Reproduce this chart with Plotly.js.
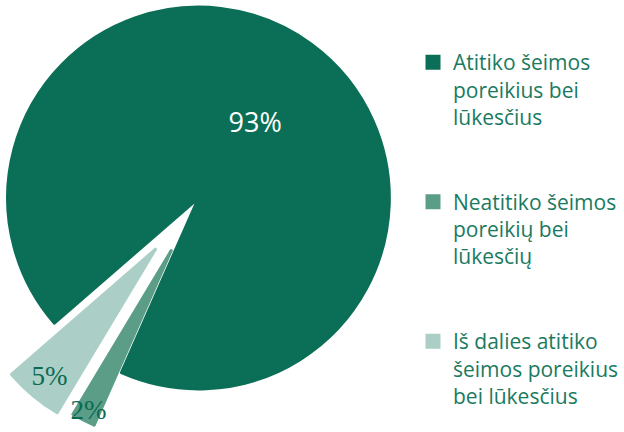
<!DOCTYPE html>
<html>
<head>
<meta charset="utf-8">
<script src="https://cdn.plot.ly/plotly-3.0.1.min.js"></script>
<style>
html, body { margin: 0; padding: 0; overflow: hidden; background: #ffffff; width: 624px; height: 432px; }
#chart { position: absolute; left: -64px; top: -66px; }
</style>
</head>
<body>
<div id="chart"></div>
<script>
// Data
var categories = [
  "Atitiko šeimos<br>poreikius bei<br>lūkesčius",
  "Neatitiko šeimos<br>poreikių bei<br>lūkesčių",
  "Iš dalies atitiko<br>šeimos poreikius<br>bei lūkesčius"
];
var shares = [93, 2, 5];
var sliceColors = ["#0b6f57", "#5b9d87", "#abcfc6"];
var slicePull = [0, 0.31, 0.35];

// Layout geometry (pixels in the plotting div)
var W = 688, H = 620;
var offL = 64, offT = 66;
var radius = 192;
var maxPull = Math.max.apply(null, slicePull);
var cx = 200 + offL, cy = 198 + offT;
var half = radius * (1 + maxPull);

var legendLabels = categories.map(function (c) { return c + "<br> <br> "; });

var trace = {
  type: "pie",
  labels: legendLabels,
  values: shares,
  sort: false,
  direction: "clockwise",
  rotation: 229,
  pull: slicePull,
  marker: { colors: sliceColors, line: { color: sliceColors, width: 3 } },
  textinfo: "percent",
  textposition: "inside",
  insidetextorientation: "horizontal",
  insidetextfont: {
    family: ["Open Sans", "Liberation Serif", "Liberation Serif"],
    color: ["#ffffff", "#0a6a52", "#0a6a52"],
    size: [27, 27, 27]
  },
  hoverinfo: "none",
  domain: {
    x: [(cx - half) / W, (cx + half) / W],
    y: [1 - (cy + half) / H, 1 - (cy - half) / H]
  }
};

var layout = {
  width: W,
  height: H,
  margin: { l: 0, r: 0, t: 0, b: 0 },
  paper_bgcolor: "#ffffff",
  showlegend: true,
  uniformtext: { minsize: 27, mode: "show" },
  legend: {
    x: (416 + offL) / W,
    xanchor: "left",
    y: 1 - (42 + offT) / H,
    yanchor: "top",
    valign: "top",
    font: { family: "Open Sans", size: 21, color: "#1a7a5f" },
    bgcolor: "rgba(0,0,0,0)",
    itemclick: false
  }
};

Plotly.newPlot("chart", [trace], layout, { staticPlot: true, displayModeBar: false });
</script>
</body>
</html>
